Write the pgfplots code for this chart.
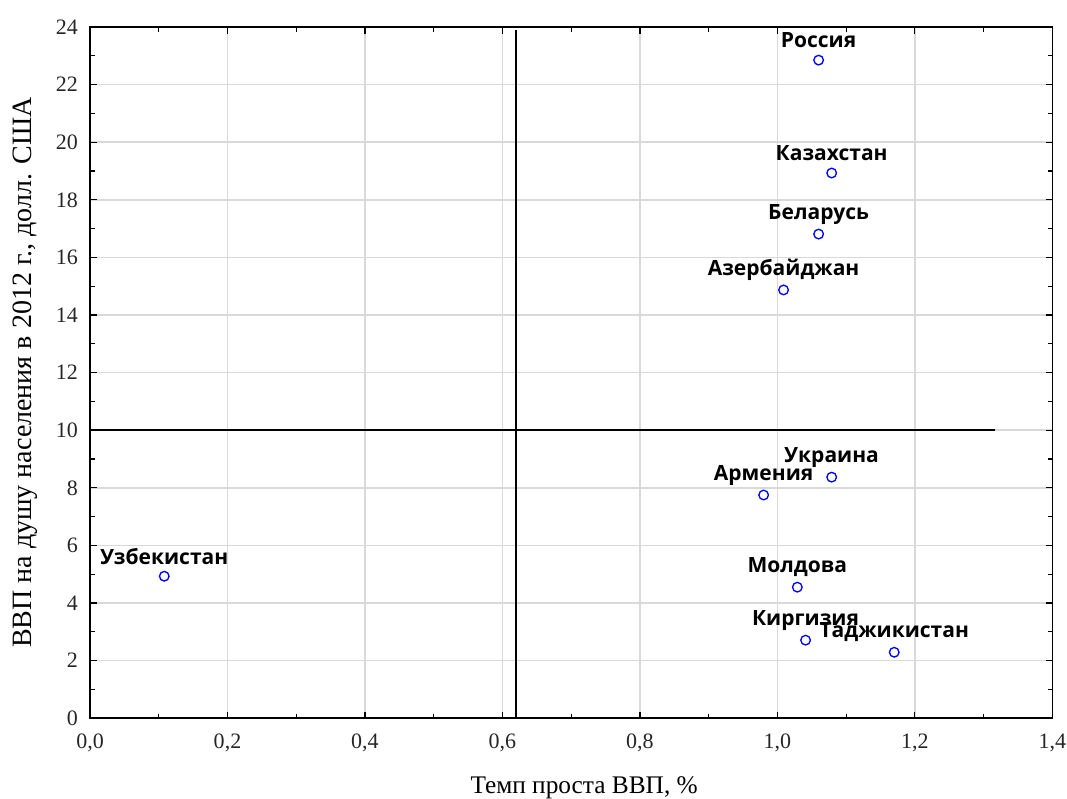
\documentclass[border=0pt]{standalone}
\usepackage{pgfplots}
\pgfplotsset{compat=1.18}
\usepackage{fontspec}
\setmainfont{Liberation Serif}
\newfontfamily\labfont{Open Sans}
\definecolor{gridc}{RGB}{217,217,217}
\begin{document}
\begin{tikzpicture}
\path[use as bounding box] (0,0) rectangle (800pt,598.5pt);
\begin{axis}[
  at={(67.5pt,60pt)}, anchor=south west,
  width=721.5pt, height=518.25pt, scale only axis,
  xmin=0, xmax=1.4, ymin=0, ymax=24,
  xtick={0,0.2,...,1.4}, ytick={0,2,...,24},
  minor x tick num=1, minor y tick num=1,
  tick align=inside, tick pos=both,
  major tick length=5pt, minor tick length=3.5pt,
  grid=major, major grid style={gridc, line width=1.1pt},
  axis line style={black, line width=1.1pt},
  every tick/.style={black, line width=0.9pt},
  /pgf/number format/assume math mode=true,
  xticklabel style={/pgf/number format/.cd, use comma, fixed, fixed zerofill, precision=1, /tikz/.cd, yshift=-8.5pt},
  yticklabel style={xshift=-5.5pt},
  ticklabel style={font=\fontsize{16.5}{18}\selectfont, text=black!85},
  xlabel={Темп проста ВВП, \%},
  ylabel={ВВП на душу населения в 2012 г., долл. США},
  xlabel style={font=\fontsize{19}{22}\selectfont, at={(axis description cs:0.5135,-0.0999)}, anchor=center},
  ylabel style={font=\fontsize{21}{22}\selectfont, at={(axis description cs:-0.0676,0.5)}, anchor=center},
  clip=false,
]
\addplot[black, line width=1.1pt] coordinates {(0.62,0) (0.62,23.9)};
\addplot[black, line width=1.1pt] coordinates {(0,10) (1.317,10)};
\addplot[only marks, mark=o, mark size=3.6pt, mark options={blue, line width=1pt},
  point meta=explicit symbolic,
  nodes near coords,
  every node near coord/.style={anchor=center, yshift=15pt, font=\labfont\bfseries\fontsize{15.75}{18}\selectfont, text=black}]
coordinates {
(1.060,22.85) [Россия]
(1.079,18.93) [Казахстан]
(1.060,16.81) [Беларусь]
(1.009,14.87) [Азербайджан]
(1.079,8.37) [Украина]
(0.980,7.75) [Армения]
(0.108,4.93) [Узбекистан]
(1.029,4.55) [Молдова]
(1.041,2.71) [Киргизия]
(1.170,2.29) [Таджикистан]
};
\end{axis}
\end{tikzpicture}
\end{document}
